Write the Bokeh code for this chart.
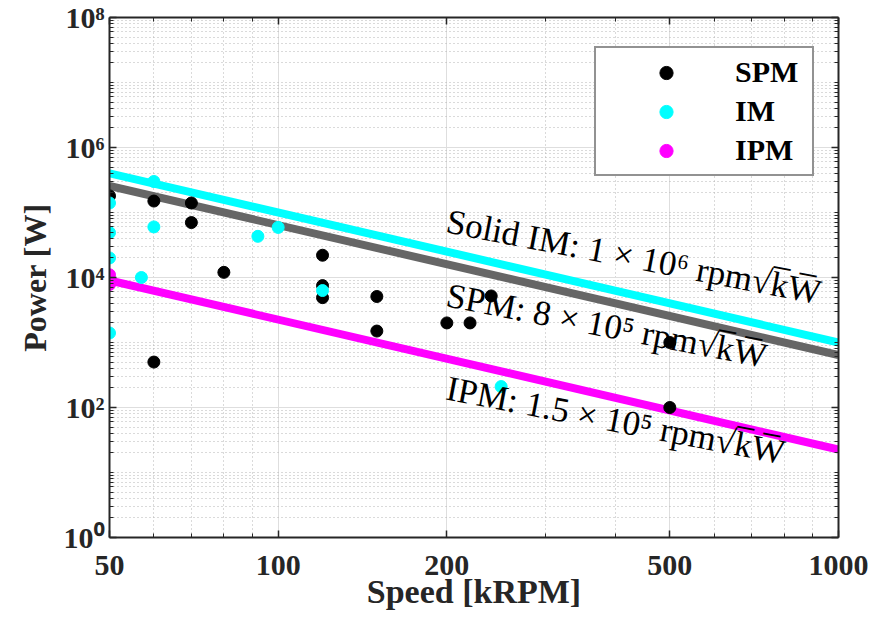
from bokeh.plotting import figure
from bokeh.models import (FixedTicker, LogAxis, Label, Legend, LegendItem,
                          NumeralTickFormatter)
from bokeh.embed import file_html
from bokeh.resources import INLINE

# ---------------- data ----------------
spm_speed = [50, 60, 70, 70, 80, 120, 120, 120, 150, 150, 200, 220, 240, 500, 500, 60]
spm_power = [1.8e5, 1.5e5, 1.4e5, 7.0e4, 1.2e4, 2.2e4, 7.5e3, 4.9e3, 5.1e3, 1.5e3,
             2.0e3, 2.0e3, 5.2e3, 1.0e3, 100, 500]

im_speed = [50, 60, 50, 60, 50, 57, 50, 92, 100, 120, 250]
im_power = [1.4e5, 3.0e5, 4.9e4, 6.0e4, 2.0e4, 1.0e4, 1.4e3, 4.3e4, 5.9e4, 6.3e3, 210]

ipm_speed = [50, 50]
ipm_power = [1.1e4, 7.8e3]

# limit lines (speed kRPM -> power W), endpoints
line_speed = [50, 1000]
line_im_power = [4.0e5, 1.0e3]      # 1e6 rpm*sqrt(kW)
line_spm_power = [2.56e5, 640]      # 8e5 rpm*sqrt(kW)
line_ipm_power = [9.0e3, 22.5]      # 1.5e5 rpm*sqrt(kW)

x_ticks = [50, 100, 200, 500, 1000]
x_tick_labels = ["50", "100", "200", "500", "1000"]
x_minor = [60, 70, 80, 90, 300, 400, 600, 700, 800, 900]
y_ticks = [1, 100, 10000, 1000000, 100000000]
y_tick_labels = ["10⁰", "10²", "10⁴", "10⁶", "10⁸"]
y_minor = [m * 10 ** k for k in range(0, 8) for m in range(1, 10)
           if m * 10 ** k not in y_ticks]

ann_texts = ["Solid IM: 1 × 10⁶ rpm√k̅W̅",
             "SPM: 8 × 10⁵ rpm√k̅W̅",
             "IPM: 1.5 × 10⁵ rpm√k̅W̅"]
ann_x = [200, 200, 200]
ann_y = [7.4e4, 5.4e3, 200]

# ---------------- figure ----------------
SERIF = "Liberation Serif"
DARK = "#262626"

p = figure(x_axis_type="log", y_axis_type="log",
           x_range=(50, 1000), y_range=(1, 1e8),
           frame_width=729, frame_height=520,
           min_border_left=109, min_border_top=17,
           min_border_right=36, min_border_bottom=76,
           output_backend="svg", toolbar_location=None,
           background_fill_color="white", border_fill_color="white")
p.outline_line_color = None

xt = FixedTicker(ticks=x_ticks, minor_ticks=x_minor)
yt = FixedTicker(ticks=y_ticks, minor_ticks=y_minor)

top = LogAxis(ticker=xt)
right = LogAxis(ticker=yt)
p.add_layout(top, "above")
p.add_layout(right, "right")

for ax in p.xaxis + p.yaxis:
    ax.axis_line_color = DARK
    ax.axis_line_width = 2
    ax.major_tick_in = 7
    ax.major_tick_out = 0
    ax.minor_tick_in = 4
    ax.minor_tick_out = 0
    ax.major_tick_line_color = DARK
    ax.minor_tick_line_color = DARK
    ax.major_tick_line_width = 1.5
    ax.minor_tick_line_width = 1
    ax.major_label_text_font = SERIF
    ax.major_label_text_font_style = "bold"
    ax.major_label_text_font_size = "30px"
    ax.major_label_text_color = DARK
    ax.axis_label_text_font = SERIF
    ax.axis_label_text_font_style = "bold"
    ax.axis_label_text_font_size = "32px"
    ax.axis_label_text_color = DARK

p.xaxis.ticker = xt
p.yaxis.ticker = yt

bottom = p.below[0]
left = p.left[0]
bottom.formatter = NumeralTickFormatter(format="0")
bottom.major_label_overrides = {t: l for t, l in zip(x_ticks, x_tick_labels)}
left.major_label_overrides = {t: l for t, l in zip(y_ticks, y_tick_labels)}
bottom.axis_label = "Speed [kRPM]"
bottom.axis_label_text_font_size = "34px"
left.axis_label = "Power [W]"
bottom.major_label_standoff = 18
left.major_label_standoff = 5
bottom.axis_label_standoff = -5
left.axis_label_standoff = 8

for ax in (top, right):
    ax.major_label_text_font_size = "6px"
    ax.major_label_text_alpha = 0
    ax.major_label_standoff = 0

p.xgrid.grid_line_color = "#dedede"
p.ygrid.grid_line_color = "#dedede"
p.xgrid.minor_grid_line_color = "#b5b5b5"
p.ygrid.minor_grid_line_color = "#b5b5b5"
p.xgrid.minor_grid_line_dash = "1 3"
p.ygrid.minor_grid_line_dash = "1 3"

# limit lines
p.line(line_speed, line_im_power, line_color="#00ffff", line_width=8)
p.line(line_speed, line_spm_power, line_color="#666666", line_width=8)
p.line(line_speed, line_ipm_power, line_color="#ff00ff", line_width=8)

# scatter
r_spm = p.scatter(spm_speed, spm_power, size=12, fill_color="black", line_color="black")
r_im = p.scatter(im_speed, im_power, size=12, fill_color="#00ffff", line_color="#00ffff")
r_ipm = p.scatter(ipm_speed, ipm_power, size=12, fill_color="#ff00ff", line_color="#ff00ff")

for t, xv, yv in zip(ann_texts, ann_x, ann_y):
    p.add_layout(Label(x=xv, y=yv, text=t, angle=-0.19,
                       text_font=SERIF, text_font_size="35px",
                       text_color="black", text_align="left",
                       text_baseline="alphabetic"))

legend = Legend(items=[LegendItem(label="SPM", renderers=[r_spm]),
                       LegendItem(label="IM", renderers=[r_im]),
                       LegendItem(label="IPM", renderers=[r_ipm])],
                location=(485, 361),
                glyph_width=126, glyph_height=33, label_height=33,
                label_width=70, label_standoff=6, spacing=5, padding=7,
                label_text_font=SERIF, label_text_font_style="bold",
                label_text_font_size="30px", label_text_color="black",
                border_line_color=DARK, border_line_width=2,
                background_fill_color="white", background_fill_alpha=1)
p.add_layout(legend, "center")

open("out.html", "w").write(file_html(p, INLINE))
